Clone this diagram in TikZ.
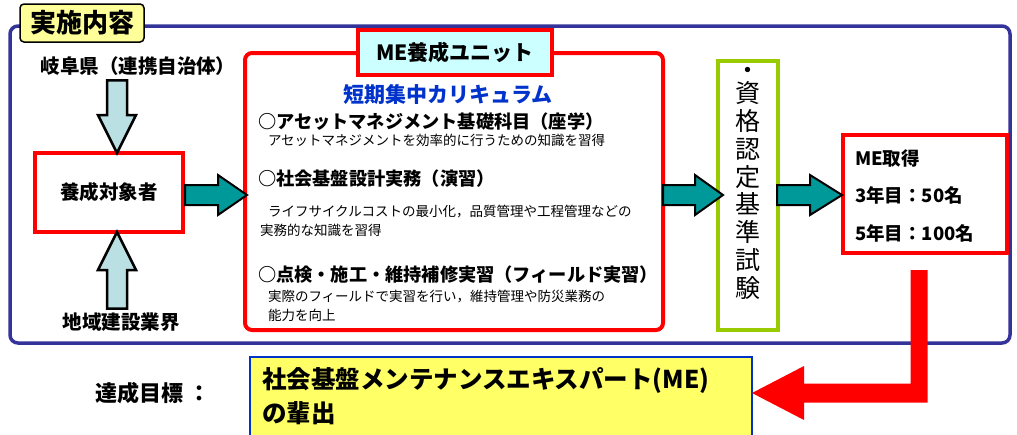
\documentclass[tikz,border=0pt]{standalone}
\usepackage{fontspec}
\setmainfont{Noto Sans CJK JP}
\usetikzlibrary{calc}
\definecolor{frameblue}{HTML}{333399}
\definecolor{mered}{HTML}{FF0000}
\definecolor{titleyellow}{HTML}{FFFF99}
\definecolor{unitcyan}{HTML}{CCFFFF}
\definecolor{arrowcyan}{HTML}{BBE0E3}
\definecolor{arrowteal}{HTML}{009999}
\definecolor{currblue}{HTML}{0033CC}
\definecolor{examgreen}{HTML}{99CC00}
\definecolor{goalyellow}{HTML}{FFFF66}
\definecolor{goalblue}{HTML}{0033CC}
% #1 style, #2 start, #3 end, #4 shaft half width, #5 head half width, #6 head length
\newcommand\blockarrow[6]{%
  \coordinate (ba-h) at ($(#3)!#6!(#2)$);
  \path[#1] ($(#2)!#4!90:(#3)$) -- ($(ba-h)!#4!-90:(#2)$) -- ($(ba-h)!#5!-90:(#2)$)
    -- (#3) -- ($(ba-h)!#5!90:(#2)$) -- ($(ba-h)!#4!90:(#2)$) -- ($(#2)!#4!-90:(#3)$) -- cycle;
}
\tikzset{
  every node/.style={inner sep=0pt, outer sep=0pt},
  framebox/.style={draw=frameblue, line width=3.5pt, rounded corners=8pt, fill=white},
  titlebox/.style={draw=black, line width=1.5pt, rounded corners=4pt, fill=titleyellow,
    font=\bfseries\fontsize{26}{28}\selectfont},
  redbox/.style={draw=mered, line width=4pt, fill=white},
  unitbox/.style={draw=mered, line width=4pt, rounded corners=7pt, fill=white},
  unitlabel/.style={draw=mered, line width=4pt, fill=unitcyan, font=\bfseries\fontsize{21}{23}\selectfont},
  exambox/.style={draw=examgreen, line width=4pt, fill=white},
  goalbox/.style={draw=goalblue, line width=2pt, fill=goalyellow},
  lbl/.style={font=\bfseries\fontsize{19.5}{21}\selectfont},
  head/.style={anchor=west, font=\bfseries\fontsize{18.2}{20}\selectfont},
  desc/.style={anchor=west, font=\fontsize{13.5}{15}\selectfont},
  melbl/.style={anchor=west, font=\bfseries\fontsize{18.5}{20}\selectfont},
  cyanarrow/.style={draw=black, line width=2.5pt, fill=arrowcyan, line join=miter},
  tealarrow/.style={draw=black, line width=2pt, fill=arrowteal, line join=miter},
  redarrow/.style={fill=mered},
}
\begin{document}
\begin{tikzpicture}[x=1pt,y=-1pt]
\useasboundingbox (0,0) rectangle (1017,434);
\clip (0,0) rectangle (1017,434);
\fill[white] (0,0) rectangle (1017,434);

% outer frame and title
\node[framebox, minimum width=1000, minimum height=317, anchor=north west] (frame) at (10,26) {};
\node[titlebox, minimum width=124, minimum height=38, anchor=north west] (title) at (20,4) {実施内容};

% left column
\node[lbl] (gifu) at (138,66) {岐阜県（連携自治体）};
\node[redbox, lbl, minimum width=148, minimum height=79] (target) at (109,192.5) {養成対象者};
\node[lbl] (chiiki) at (121,322) {地域建設業界};
\coordinate (ax) at ($(target.north)+(8,0)$);
\coordinate (bx) at ($(target.south)+(8,0)$);
\coordinate (v1s) at ($(ax |- gifu.south)+(0,5)$);
\coordinate (v2s) at ($(bx |- chiiki.north)+(0,-4)$);
\blockarrow{cyanarrow}{v1s}{ax}{10pt}{19pt}{38pt}
\blockarrow{cyanarrow}{v2s}{bx}{10pt}{19pt}{38pt}

% ME unit
\node[unitbox, minimum width=418, minimum height=277] (unit) at (454,191.5) {};
\node[unitlabel, minimum width=194, minimum height=45] (unitlbl) at (455,52.5) {ME養成ユニット};
\node[font=\bfseries\fontsize{21}{23}\selectfont, text=currblue] (curr) at (448,95) {短期集中カリキュラム};
\node[head] (c1) at (258,122) {○アセットマネジメント基礎科目（座学）};
\node[desc] (c1d) at (268,140) {アセットマネジメントを効率的に行うための知識を習得};
\node[head] (c2) at (258,179) {○社会基盤設計実務（演習）};
\node[desc] (c2d) at (268,212) {ライフサイクルコストの最小化，品質管理や工程管理などの};
\node[desc] (c2e) at (260,230) {実務的な知識を習得};
\node[head] (c3) at (258,275) {○点検・施工・維持補修実習（フィールド実習）};
\node[desc] (c3d) at (268,297) {実際のフィールドで実習を行い，維持管理や防災業務の};
\node[desc] (c3e) at (268,315) {能力を向上};

% exam
\node[exambox, minimum width=60, minimum height=269] (exam) at (748,195.5) {};
\node[font=\fontsize{25}{27}\selectfont] (examdot) at (748,73) {・};
\node[align=center, font=\fontsize{25}{27.9}\selectfont] (examtxt) at (748,190.5)
  {資\\格\\認\\定\\基\\準\\試\\験};

% ME result
\node[redbox, minimum width=164, minimum height=118] (me) at (925,194) {};
\node[melbl] (me1) at (855,158) {ME取得};
\node[melbl] (me2) at (855,195) {3年目：50名};
\node[melbl] (me3) at (855,233) {5年目：100名};

% teal arrows
\coordinate (a1s) at ($(target.east)+(2,2.5)$);
\coordinate (a1e) at ($(unit.west |- a1s)+(2,0)$);
\coordinate (a2s) at (unit.east |- a1s);
\coordinate (a2e) at ($(exam.west |- a1s)+(5,0)$);
\coordinate (a3s) at ($(exam.east |- a1s)+(-1,0)$);
\coordinate (a3e) at ($(me.west |- a1s)+(-1,0)$);
\blockarrow{tealarrow}{a1s}{a1e}{10pt}{20pt}{29pt}
\blockarrow{tealarrow}{a2s}{a2e}{10pt}{20pt}{28pt}
\blockarrow{tealarrow}{a3s}{a3e}{10pt}{20pt}{32pt}

% goal
\node[goalbox, minimum width=502, minimum height=82, anchor=north west] (goal) at (250,357) {};
\node[anchor=west, font=\bfseries\fontsize{24.5}{26}\selectfont] (goal1) at (262,381) {社会基盤メンテナンスエキスパート(ME)};
\node[anchor=west, font=\bfseries\fontsize{24.5}{26}\selectfont] (goal2) at (262,413) {の輩出};
\node[font=\bfseries\fontsize{22}{24}\selectfont] (goallbl) at (153,393) {達成目標 ：};

% red elbow arrow
\path[redarrow] let \p1=($(me.south)+(-6,17)$), \p2=($(goal.east)+(0,-5)$) in
  (\x1-8.5pt,\y1) -- (\x1+8.5pt,\y1) -- (\x1+8.5pt,\y2-9.5pt) -- (\x2+52pt,\y2-9.5pt)
  -- (\x2+52pt,\y2-27pt) -- (\x2,\y2) -- (\x2+52pt,\y2+27pt) -- (\x2+52pt,\y2+9.5pt)
  -- (\x1-8.5pt,\y2+9.5pt) -- cycle;
\end{tikzpicture}
\end{document}
